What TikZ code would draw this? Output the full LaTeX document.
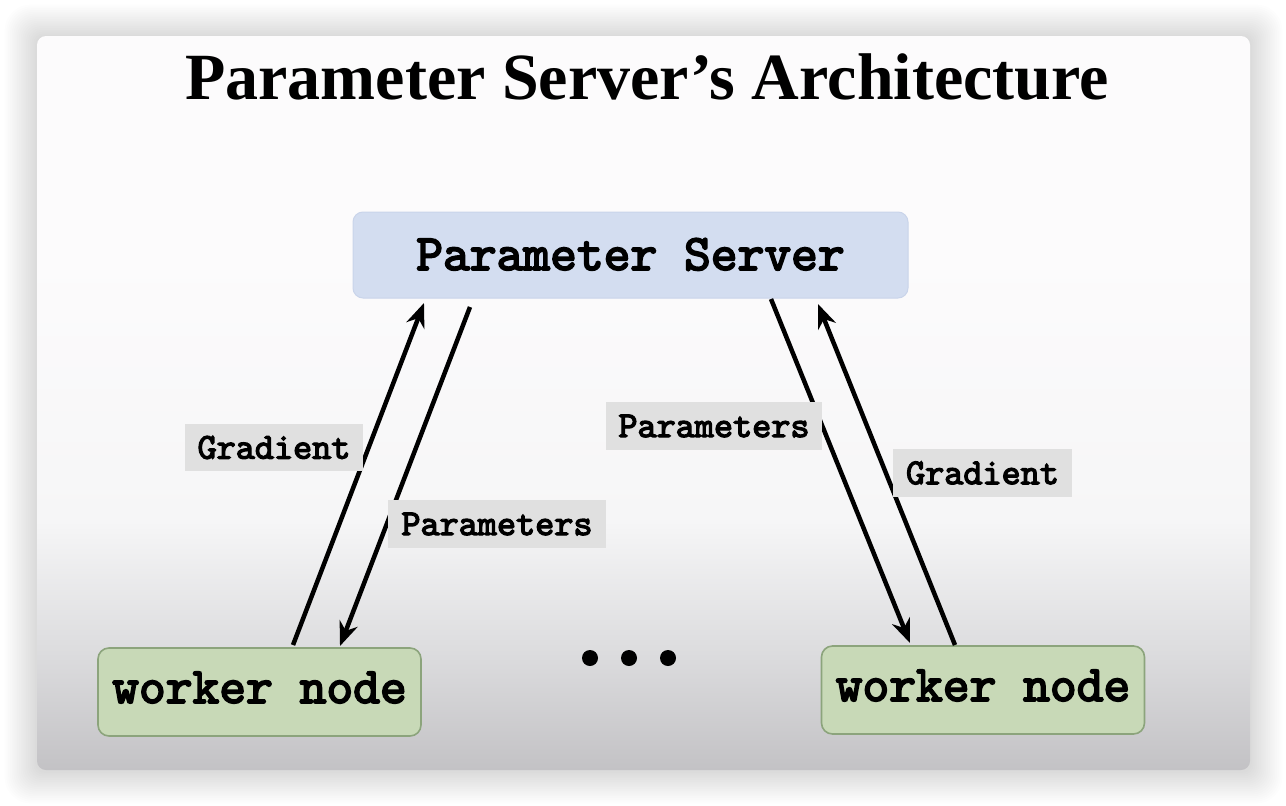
\documentclass[tikz,border=0pt]{standalone}
\usepackage{fontspec}
\setmainfont{Liberation Serif}
\newfontfamily\cmono{lmmono10-regular.otf}[FakeBold=3.5]
\usetikzlibrary{arrows.meta}
\definecolor{sbot}{HTML}{C3C2C5}
\definecolor{slow}{HTML}{DCDCDE}
\definecolor{smid}{HTML}{F6F6F7}
\definecolor{stop}{HTML}{FCFBFC}
\definecolor{psfill}{HTML}{D3DDF0}
\definecolor{psedge}{HTML}{C9D4EA}
\definecolor{wkfill}{HTML}{C8D9B7}
\definecolor{wkedge}{HTML}{8CA47C}
\definecolor{lblfill}{HTML}{E0E0E0}
\pgfdeclareverticalshading{slidebg}{100bp}{color(0bp)=(sbot); color(25bp)=(sbot); color(33bp)=(slow); color(42bp)=(smid); color(60bp)=(stop); color(100bp)=(stop)}
\tikzset{
  psbox/.style={rectangle, rounded corners=10pt, fill=psfill, draw=psedge, line width=1pt,
    inner sep=0pt, font=\cmono\fontsize{51}{51}\selectfont, text height=30pt, text depth=0pt},
  wkbox/.style={rectangle, rounded corners=11pt, fill=wkfill, draw=wkedge, line width=1.6pt,
    inner sep=0pt, minimum width=323pt, minimum height=88pt,
    font=\cmono\fontsize{51}{51}\selectfont, text height=31pt, text depth=9pt},
  lblbox/.style={rectangle, fill=lblfill, inner sep=0pt, minimum height=47pt,
    font=\cmono\fontsize{36.4}{36.4}\selectfont},
  dotn/.style={circle, fill=black, minimum size=16pt, inner sep=0pt},
  arr/.style={line width=4.5pt, -{Stealth[length=24pt,width=19pt]}},
}
\begin{document}
\begin{tikzpicture}[x=1pt,y=-1pt]
\useasboundingbox (0,0) rectangle (1286,806);
\fill[white] (0,0) rectangle (1286,806);
% shadow
\foreach \i in {1,...,18}{
  \fill[black, opacity=0.009, rounded corners=8+\i] (37-1.8*\i,37-1.8*\i) rectangle (1250+1.8*\i,771+1.8*\i);
}
% slide
\shade[shading=slidebg, rounded corners=9pt] (37,36) rectangle (1250,770);
% title
\node[font=\bfseries\fontsize{66}{66}\selectfont, anchor=base] (title) at (647,99) {Parameter Server’s Architecture};
% nodes
\node[psbox, minimum width=555pt, minimum height=86pt] (ps) at (630.5,255) {Parameter Server};
\node[wkbox] (w1) at (259.5,692) {worker node};
\node[wkbox] (w2) at (983,690) {worker node};
% arrow ends
\coordinate (a1s) at (293,645);
\coordinate (a1e) at (424,303);
\coordinate (a2s) at (470,307);
\coordinate (a2e) at (340,646);
\coordinate (a3s) at (771,299);
\coordinate (a3e) at (910,643);
\coordinate (a4s) at (955,645);
\coordinate (a4e) at (818,304);
\draw[arr] (a1s) -- (a1e);
\draw[arr] (a2s) -- (a2e);
\draw[arr] (a3s) -- (a3e);
\draw[arr] (a4s) -- (a4e);
% labels
\node[lblbox, minimum width=178pt] (lg1) at (274,447.5) {Gradient};
\node[lblbox, minimum width=218pt, minimum height=48pt] (lp1) at (497,524) {Parameters};
\node[lblbox, minimum width=216pt, minimum height=48pt] (lp2) at (714,426) {Parameters};
\node[lblbox, minimum width=179pt, minimum height=48pt] (lg2) at (982.5,473) {Gradient};
% dots
\node[dotn] (d1) at (590,658) {};
\node[dotn] (d2) at (629,658) {};
\node[dotn] (d3) at (668,658) {};
\end{tikzpicture}
\end{document}
